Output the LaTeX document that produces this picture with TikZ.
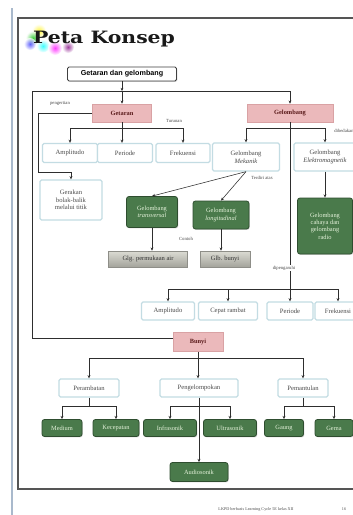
\documentclass[tikz,border=0pt]{standalone}
\usepackage{fontspec}
\setmainfont{Liberation Serif}
\newfontfamily\titlefont{DejaVu Serif}
\newfontfamily\headfont{Liberation Sans}
\usetikzlibrary{arrows.meta,shadows,calc}

\definecolor{linec}{HTML}{2E2E2E}
\definecolor{edgec}{HTML}{C3DCE3}
\definecolor{txtc}{HTML}{4A4A4A}
\definecolor{pinkc}{HTML}{EBB9BB}
\definecolor{pinkedge}{HTML}{D9A2A4}
\definecolor{pinktxt}{HTML}{5A1A1A}
\definecolor{greenc}{HTML}{4A7A4B}
\definecolor{greenedge}{HTML}{2E4D2F}
\definecolor{greentxt}{HTML}{E4F2DA}
\definecolor{graytop}{HTML}{DCDCD4}
\definecolor{graybot}{HTML}{A3A39B}
\definecolor{grayedge}{HTML}{8E8E88}
\definecolor{framec}{HTML}{555555}
\definecolor{pagec}{HTML}{A9B9CC}

\begin{document}
\begin{tikzpicture}[x=1pt,y=-1pt,
  every node/.style={inner sep=0pt, align=center},
  conn/.style={draw=linec, line width=0.55pt},
  arr/.style={conn, -{Stealth[length=3.2pt,width=2.8pt]}},
  softshadow/.style={drop shadow={shadow xshift=0.8pt, shadow yshift=-0.9pt, opacity=0.3}},
  mainbox/.style={draw=black!75, line width=0.8pt, fill=white, rounded corners=1.5pt,
    font=\headfont\bfseries\fontsize{7.2}{8}\selectfont, softshadow},
  lightbox/.style={draw=edgec, line width=1.3pt, fill=white, rounded corners=1.5pt,
    text=txtc, font=\fontsize{6.6}{7.6}\selectfont},
  pinkbox/.style={draw=pinkedge, line width=0.6pt, fill=pinkc, text=pinktxt,
    font=\fontsize{6.4}{7.4}\selectfont\bfseries, softshadow},
  greenbox/.style={draw=greenedge, line width=0.8pt, fill=greenc, rounded corners=2.5pt,
    text=greentxt, font=\fontsize{6.4}{7.3}\selectfont, softshadow},
  graybox/.style={draw=grayedge, line width=0.6pt, top color=graytop, bottom color=graybot,
    text=black!80, font=\fontsize{6.5}{7.4}\selectfont, softshadow},
  lbl/.style={font=\fontsize{4.7}{5.2}\selectfont, text=txtc},
  glow/.style={inner color=#1, outer color=white, opacity=.75}
]
\clip[use as bounding box] (0,0) rectangle (353,515);
\fill[white] (0,0) rectangle (353,515);

% page edge and frame
\draw[pagec, line width=1.5pt] (12,8) -- (12,515);
\draw[framec, line width=1.6pt] (18,18) rectangle (365,489);

% title with coloured glow behind the first word
\shade[glow=yellow!90!orange] (39,31) circle (7);
\shade[glow=green!75!black] (33,38) circle (7);
\shade[glow=blue!80] (30,44) circle (6);
\shade[glow=cyan] (43,46) circle (6.5);
\shade[glow=magenta] (55,48) circle (7);
\shade[glow=violet] (68,47) circle (6);
\node[text=black!90] (title) at (104,39)
  {\titlefont\bfseries\fontsize{17}{20}\selectfont\scalebox{1.2}[1]{Peta Konsep}};

% main nodes
\node[mainbox, minimum width=109pt, minimum height=14pt] (main) at (122,74) {Getaran dan gelombang};
\node[pinkbox, minimum width=59pt, minimum height=18pt] (getaran) at (122,113) {Getaran};
\node[pinkbox, minimum width=86pt, minimum height=18pt] (gelombang) at (290,113) {Gelombang};

\node[lightbox, minimum width=62pt, minimum height=40pt] (gerakan) at (71,200) {Gerakan\\bolak-balik\\melalui titik};
\node[lightbox, minimum width=55pt, minimum height=19pt] (amp1) at (70,153) {Amplitudo};
\node[lightbox, minimum width=55pt, minimum height=19pt] (per1) at (125,153) {Periode};
\node[lightbox, minimum width=54pt, minimum height=19pt] (frek1) at (183,153) {Frekuensi};

\node[lightbox, minimum width=67pt, minimum height=28pt] (mek) at (246,157) {Gelombang\\\textit{Mekanik}};
\node[lightbox, minimum width=62pt, minimum height=28pt] (em) at (325,157) {Gelombang\\\textit{Elektromagnetik}};

\node[greenbox, minimum width=51pt, minimum height=31pt] (trans) at (152,212) {Gelombang\\\textit{transversal}};
\node[greenbox, minimum width=56pt, minimum height=28pt] (long) at (221,215) {Gelombang\\\textit{longitudinal}};
\node[greenbox, minimum width=55pt, minimum height=56pt] (radio) at (325,226) {Gelombang\\cahaya dan\\gelombang\\radio};

\node[graybox, minimum width=79pt, minimum height=16pt] (glg) at (148,259) {Glg. permukaan air};
\node[graybox, minimum width=50pt, minimum height=16pt] (glb) at (225,259) {Glb. bunyi};

\node[lightbox, minimum width=53pt, minimum height=18pt] (amp2) at (168,311) {Amplitudo};
\node[lightbox, minimum width=59pt, minimum height=18pt] (cepat) at (228,311) {Cepat rambat};
\node[lightbox, minimum width=46pt, minimum height=18pt] (per2) at (290,311) {Periode};
\node[lightbox, minimum width=46pt, minimum height=18pt] (frek2) at (338,311) {Frekuensi};

\node[pinkbox, minimum width=50pt, minimum height=19pt] (bunyi) at (198,342) {Bunyi};

\node[lightbox, minimum width=60pt, minimum height=18pt] (peramb) at (89,388) {Perambatan};
\node[lightbox, minimum width=78pt, minimum height=18pt] (pengel) at (199,388) {Pengelompokan};
\node[lightbox, minimum width=50pt, minimum height=18pt] (pemant) at (303,388) {Pemantulan};

\node[greenbox, minimum width=40pt, minimum height=17pt] (medium) at (62,428) {Medium};
\node[greenbox, minimum width=46pt, minimum height=17pt] (kec) at (116,428) {Kecepatan};
\node[greenbox, minimum width=53pt, minimum height=17pt] (infra) at (170,428) {Infrasonik};
\node[greenbox, minimum width=53pt, minimum height=17pt] (ultra) at (230,428) {Ultrasonik};
\node[greenbox, minimum width=39pt, minimum height=17pt] (gaung) at (284,428) {Gaung};
\node[greenbox, minimum width=38pt, minimum height=17pt] (gema) at (334,428) {Gema};
\node[greenbox, minimum width=58pt, minimum height=19pt] (audio) at (199,472) {Audiosonik};

% junction points
\coordinate (hub) at (122,91);
\coordinate (loopL) at (32,91);
\coordinate (defL) at (38,172);
\coordinate (tj) at (122,128);
\coordinate (gj) at (290,128);
\coordinate (dj) at (290,289);
\coordinate (bj) at (198,358);
\coordinate (pj1) at (89,406);
\coordinate (pj2) at (199,406);
\coordinate (pj3) at (303,406);

% connectors: top level
\draw[arr] (main.south) -- (hub);
\draw[arr] (hub) -- (getaran.north);
\draw[arr] (hub) -| (gelombang.north);
\draw[conn] (hub) -- (loopL) |- ([yshift=4pt]bunyi.west);

% Getaran
\draw[arr] (getaran.west) -| (defL) -| (gerakan.north);
\draw[conn] (getaran.south) -- (tj);
\draw[arr] (tj) -| (amp1.north);
\draw[arr] (tj) -- (tj |- per1.north);
\draw[arr] (tj) -| (frek1.north);

% Gelombang
\draw[arr] (gelombang.south) -- (per2.north);
\draw[arr] (gj) -| (mek.north);
\draw[arr] (gj) -| (em.north);
\draw[arr] (mek.south) -- (trans.north);
\draw[arr] (mek.south) -- (long.north);
\draw[arr] (trans.south) -- (trans.south |- glg.north);
\draw[arr] (long.south) -- (long.south |- glb.north);
\draw[arr] (em.south) -- (radio.north);
\draw[arr] (dj) -| (amp2.north);
\draw[arr] (dj) -| (cepat.north);
\draw[arr] (dj) -| (frek2.north);

% Bunyi
\draw[conn] (bunyi.south) -- (bj);
\draw[arr] (bj) -| (peramb.north);
\draw[arr] (bj) -- (bj |- pengel.north);
\draw[arr] (bj) -| (pemant.north);
\draw[conn] (peramb.south) -- (pj1);
\draw[arr] (pj1) -| (medium.north);
\draw[arr] (pj1) -| (kec.north);
\draw[arr] (pengel.south) -- (audio.north);
\draw[arr] (pj2) -| (infra.north);
\draw[arr] (pj2) -| (ultra.north);
\draw[conn] (pemant.south) -- (pj3);
\draw[arr] (pj3) -| (gaung.north);
\draw[arr] (pj3) -| (gema.north);

% connector labels
\node[lbl] (l1) at (60,103) {pengertian};
\node[lbl] (l2) at (174,121) {Turunan};
\node[lbl] (l3) at (344,131) {dibedakan};
\node[lbl] (l4) at (262,178) {Terdiri atas};
\node[lbl] (l5) at (186,239) {Contoh};
\node[lbl, fill=white, inner sep=1pt] (l6) at (284,268) {dipengaruhi};

% footer
\node[font=\fontsize{4.2}{5}\selectfont, text=black!70] (foot) at (256,509) {LKPD berbasis Learning Cycle 5E kelas XII};
\node[font=\fontsize{4.2}{5}\selectfont, text=black!70] (pg) at (344,509) {16};
\end{tikzpicture}
\end{document}
